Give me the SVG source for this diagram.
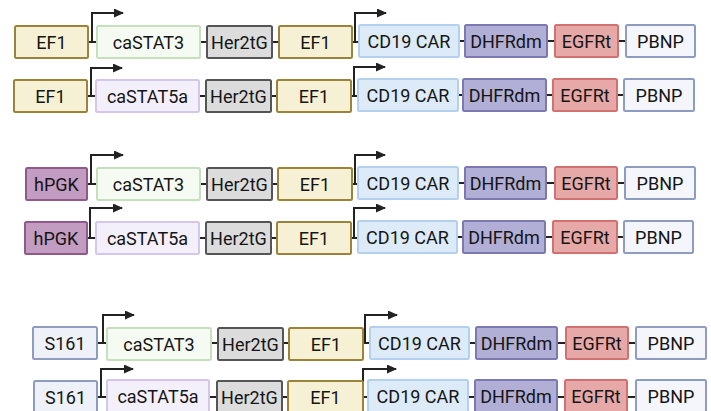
<svg xmlns="http://www.w3.org/2000/svg" width="711" height="411" viewBox="0 0 711 411">
<defs>
<marker id="ah" viewBox="0 0 10 10" refX="9" refY="5" markerWidth="10" markerHeight="9" markerUnits="userSpaceOnUse" orient="auto" preserveAspectRatio="none"><path d="M0,0 L10,5 L0,10 Z" fill="#222"/></marker>
<style>
rect{stroke-width:2}
text{font-family:Roboto,"Liberation Sans",sans-serif;font-size:18px;fill:#151515;text-anchor:middle}
.ef1{fill:#f6f1d4;stroke:#9b8339}
.s3{fill:#f5fbf2;stroke:#c6e0bd}
.s5{fill:#f4f0fb;stroke:#d5c6ec}
.her{fill:#dcdcdc;stroke:#555}
.cd{fill:#ddebf8;stroke:#b3d1ee}
.dh{fill:#b1afd5;stroke:#7c79b1}
.eg{fill:#e7a9a8;stroke:#d2716f}
.pb{fill:#f4f6fc;stroke:#8e9cc2}
.pgk{fill:#c39cc2;stroke:#8e5a8c}
.s161{fill:#eef1f8;stroke:#8e9cc2}
.ln{stroke:#222;stroke-width:2;fill:none}
</style>
</defs>
<rect width="711" height="411" fill="#fff" style="stroke:none"/>

<g id="connectors">
<!-- row 1 -->
<path class="ln" d="M88,42 H97 M92,42 V13 H123" marker-end="url(#ah)"/>
<path class="ln" d="M352,42 H359 M355,42 V13 H386" marker-end="url(#ah)"/>
<path class="ln" d="M200,42 H207 M272,42 H279 M459,41 H465 M547,41 H555 M618,41 H626"/>
<!-- row 2 -->
<path class="ln" d="M87,96 H96 M91,96 V68 H122" marker-end="url(#ah)"/>
<path class="ln" d="M351,96 H358 M354,96 V67 H385" marker-end="url(#ah)"/>
<path class="ln" d="M199,96 H206 M271,96 H277 M458,95 H463 M546,95 H553 M617,95 H624"/>
<!-- row 3 -->
<path class="ln" d="M87,184 H97 M91,184 V155 H123" marker-end="url(#ah)"/>
<path class="ln" d="M352,184 H358 M355,184 V155 H385" marker-end="url(#ah)"/>
<path class="ln" d="M200,184 H207 M272,184 H278 M458,183 H465 M546,183 H555 M617,183 H625"/>
<!-- row 4 -->
<path class="ln" d="M87,238 H96 M90,238 V208 H122" marker-end="url(#ah)"/>
<path class="ln" d="M351,238 H358 M354,238 V208 H385" marker-end="url(#ah)"/>
<path class="ln" d="M199,238 H206 M271,238 H277 M457,237 H463 M545,237 H553 M617,237 H624"/>
<!-- row 5 -->
<path class="ln" d="M97,343 H107 M103,343 V315 H134" marker-end="url(#ah)"/>
<path class="ln" d="M363,343 H370 M365,343 V315 H397" marker-end="url(#ah)"/>
<path class="ln" d="M211,343 H218 M283,343 H289 M469,343 H476 M557,343 H566 M628,343 H636"/>
<!-- row 6 -->
<path class="ln" d="M97,397 H107 M101,397 V369 H133" marker-end="url(#ah)"/>
<path class="ln" d="M363,397 H368 M363,397 V369 H396" marker-end="url(#ah)"/>
<path class="ln" d="M209,397 H217 M282,397 H288 M468,397 H475 M557,397 H565 M627,397 H636"/>
</g>

<!-- Row 1 -->
<g id="r1-ef1a"><rect class="ef1" x="15" y="26" width="73" height="32" rx="1.5"/><text x="51.5" y="48.5">EF1</text></g>
<g id="r1-stat"><rect class="s3" x="97" y="26" width="103" height="32" rx="1.5"/><text x="148.5" y="48.5">caSTAT3</text></g>
<g id="r1-her"><rect class="her" x="207" y="26" width="65" height="32" rx="1.5"/><text x="239.5" y="48.5">Her2tG</text></g>
<g id="r1-ef1b"><rect class="ef1" x="279" y="26" width="73" height="32" rx="1.5"/><text x="315.5" y="48.5">EF1</text></g>
<g id="r1-cd19"><rect class="cd" x="359" y="25" width="100" height="32" rx="1.5"/><text x="409" y="47.5">CD19 CAR</text></g>
<g id="r1-dhfr"><rect class="dh" x="465" y="25" width="82" height="32" rx="1.5"/><text x="506" y="47.5">DHFRdm</text></g>
<g id="r1-egfr"><rect class="eg" x="555" y="25" width="63" height="32" rx="1.5"/><text x="586.5" y="47.5">EGFRt</text></g>
<g id="r1-pbnp"><rect class="pb" x="626" y="25" width="69" height="32" rx="1.5"/><text x="660.5" y="47.5">PBNP</text></g>

<!-- Row 2 -->
<g id="r2-ef1a"><rect class="ef1" x="14" y="80" width="73" height="32" rx="1.5"/><text x="50.5" y="102.5">EF1</text></g>
<g id="r2-stat"><rect class="s5" x="96" y="80" width="103" height="32" rx="1.5"/><text x="147.5" y="102.5">caSTAT5a</text></g>
<g id="r2-her"><rect class="her" x="206" y="80" width="65" height="32" rx="1.5"/><text x="238.5" y="102.5">Her2tG</text></g>
<g id="r2-ef1b"><rect class="ef1" x="277" y="80" width="74" height="32" rx="1.5"/><text x="314" y="102.5">EF1</text></g>
<g id="r2-cd19"><rect class="cd" x="358" y="79" width="100" height="32" rx="1.5"/><text x="408" y="101.5">CD19 CAR</text></g>
<g id="r2-dhfr"><rect class="dh" x="463" y="79" width="83" height="32" rx="1.5"/><text x="504.5" y="101.5">DHFRdm</text></g>
<g id="r2-egfr"><rect class="eg" x="553" y="79" width="64" height="32" rx="1.5"/><text x="585" y="101.5">EGFRt</text></g>
<g id="r2-pbnp"><rect class="pb" x="624" y="79" width="70" height="32" rx="1.5"/><text x="659" y="101.5">PBNP</text></g>

<!-- Row 3 -->
<g id="r3-pgk"><rect class="pgk" x="26" y="168" width="61" height="32" rx="1.5"/><text x="56.5" y="190.5">hPGK</text></g>
<g id="r3-stat"><rect class="s3" x="97" y="168" width="103" height="32" rx="1.5"/><text x="148.5" y="190.5">caSTAT3</text></g>
<g id="r3-her"><rect class="her" x="207" y="168" width="65" height="32" rx="1.5"/><text x="239.5" y="190.5">Her2tG</text></g>
<g id="r3-ef1"><rect class="ef1" x="278" y="168" width="74" height="32" rx="1.5"/><text x="315" y="190.5">EF1</text></g>
<g id="r3-cd19"><rect class="cd" x="358" y="167" width="100" height="32" rx="1.5"/><text x="408" y="189.5">CD19 CAR</text></g>
<g id="r3-dhfr"><rect class="dh" x="465" y="167" width="81" height="32" rx="1.5"/><text x="505.5" y="189.5">DHFRdm</text></g>
<g id="r3-egfr"><rect class="eg" x="555" y="167" width="62" height="32" rx="1.5"/><text x="586" y="189.5">EGFRt</text></g>
<g id="r3-pbnp"><rect class="pb" x="625" y="167" width="70" height="32" rx="1.5"/><text x="660" y="189.5">PBNP</text></g>

<!-- Row 4 -->
<g id="r4-pgk"><rect class="pgk" x="25" y="222" width="62" height="32" rx="1.5"/><text x="56" y="244.5">hPGK</text></g>
<g id="r4-stat"><rect class="s5" x="96" y="222" width="103" height="32" rx="1.5"/><text x="147.5" y="244.5">caSTAT5a</text></g>
<g id="r4-her"><rect class="her" x="206" y="222" width="65" height="32" rx="1.5"/><text x="238.5" y="244.5">Her2tG</text></g>
<g id="r4-ef1"><rect class="ef1" x="277" y="222" width="74" height="32" rx="1.5"/><text x="314" y="244.5">EF1</text></g>
<g id="r4-cd19"><rect class="cd" x="358" y="221" width="99" height="32" rx="1.5"/><text x="407.5" y="243.5">CD19 CAR</text></g>
<g id="r4-dhfr"><rect class="dh" x="463" y="221" width="82" height="32" rx="1.5"/><text x="504" y="243.5">DHFRdm</text></g>
<g id="r4-egfr"><rect class="eg" x="553" y="221" width="64" height="32" rx="1.5"/><text x="585" y="243.5">EGFRt</text></g>
<g id="r4-pbnp"><rect class="pb" x="624" y="221" width="69" height="32" rx="1.5"/><text x="658.5" y="243.5">PBNP</text></g>

<!-- Row 5 -->
<g id="r5-s161"><rect class="s161" x="33" y="327" width="64" height="32" rx="1.5"/><text x="65" y="349.5">S161</text></g>
<g id="r5-stat"><rect class="s3" x="107" y="328" width="104" height="32" rx="1.5"/><text x="159" y="350.5">caSTAT3</text></g>
<g id="r5-her"><rect class="her" x="218" y="328" width="65" height="32" rx="1.5"/><text x="250.5" y="350.5">Her2tG</text></g>
<g id="r5-ef1"><rect class="ef1" x="289" y="328" width="74" height="32" rx="1.5"/><text x="326" y="350.5">EF1</text></g>
<g id="r5-cd19"><rect class="cd" x="370" y="327" width="99" height="32" rx="1.5"/><text x="419.5" y="349.5">CD19 CAR</text></g>
<g id="r5-dhfr"><rect class="dh" x="476" y="327" width="81" height="32" rx="1.5"/><text x="516.5" y="349.5">DHFRdm</text></g>
<g id="r5-egfr"><rect class="eg" x="566" y="327" width="62" height="32" rx="1.5"/><text x="597" y="349.5">EGFRt</text></g>
<g id="r5-pbnp"><rect class="pb" x="636" y="327" width="70" height="32" rx="1.5"/><text x="671" y="349.5">PBNP</text></g>

<!-- Row 6 -->
<g id="r6-s161"><rect class="s161" x="34" y="381" width="63" height="32" rx="1.5"/><text x="65.5" y="403.5">S161</text></g>
<g id="r6-stat"><rect class="s5" x="107" y="380" width="102" height="32" rx="1.5"/><text x="158" y="402.5">caSTAT5a</text></g>
<g id="r6-her"><rect class="her" x="217" y="381" width="65" height="32" rx="1.5"/><text x="249.5" y="403.5">Her2tG</text></g>
<g id="r6-ef1"><rect class="ef1" x="288" y="381" width="75" height="32" rx="1.5"/><text x="325.5" y="403.5">EF1</text></g>
<g id="r6-cd19"><rect class="cd" x="368" y="380" width="100" height="32" rx="1.5"/><text x="418" y="402.5">CD19 CAR</text></g>
<g id="r6-dhfr"><rect class="dh" x="475" y="380" width="82" height="32" rx="1.5"/><text x="516" y="402.5">DHFRdm</text></g>
<g id="r6-egfr"><rect class="eg" x="565" y="380" width="62" height="32" rx="1.5"/><text x="596" y="402.5">EGFRt</text></g>
<g id="r6-pbnp"><rect class="pb" x="636" y="380" width="70" height="32" rx="1.5"/><text x="671" y="402.5">PBNP</text></g>
</svg>
